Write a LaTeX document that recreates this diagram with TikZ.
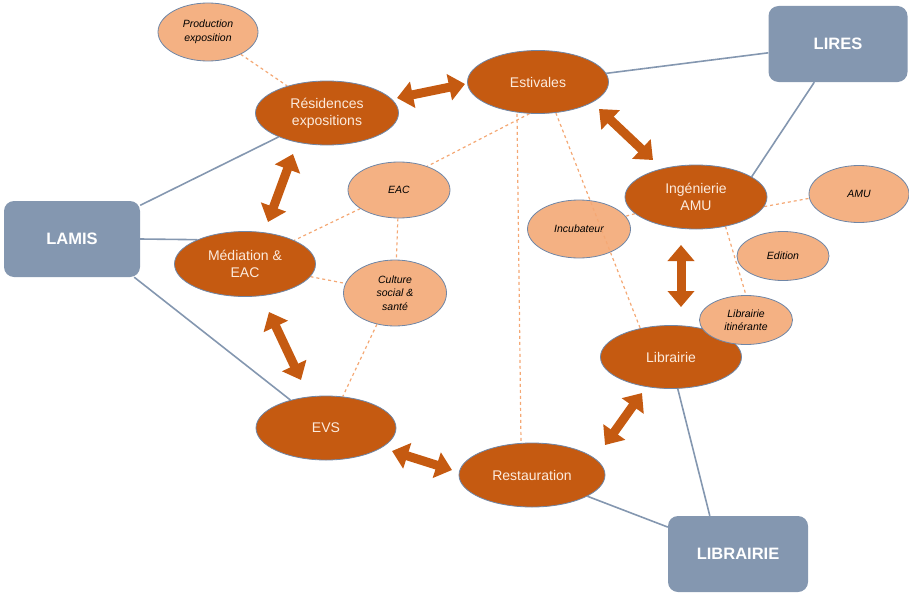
\documentclass[tikz,border=0pt]{standalone}
\usepackage{fontspec}
\setmainfont{Liberation Sans}
\usetikzlibrary{shapes.geometric,arrows.meta}
\pgfdeclarelayer{bg}
\pgfsetlayers{bg,main}
\definecolor{dor}{HTML}{C55A11}
\definecolor{lor}{HTML}{F4B183}
\definecolor{bgr}{HTML}{8497B0}
\definecolor{edgec}{HTML}{6F86A6}
\definecolor{dashc}{HTML}{F4A874}
\definecolor{ltxt}{HTML}{FCEBDD}
\tikzset{
  mainell/.style={ellipse, fill=dor, draw=edgec, line width=0.8pt, inner sep=0pt, text=ltxt, font=\fontsize{14}{17}\selectfont, align=center},
  smallell/.style={ellipse, fill=lor, draw=edgec, line width=0.8pt, inner sep=0pt, font=\fontsize{10.5}{13.5}\selectfont\itshape, align=center},
  bluebox/.style={rectangle, rounded corners=10pt, fill=bgr, text=white, inner sep=0pt, font=\fontsize{16.5}{18}\selectfont\bfseries},
  bluelink/.style={draw=bgr, line width=1.6pt},
  dashlink/.style={draw=dashc, line width=1.2pt, dash pattern=on 3pt off 3pt},
  dblarrow/.style={draw=dor, line width=9pt, {Triangle[width=26pt,length=16pt]}-{Triangle[width=26pt,length=16pt]}}
}
\begin{document}
\begin{tikzpicture}[x=1pt,y=-1pt]
\useasboundingbox (0,0) rectangle (909,594);
% blue boxes
\node[bluebox, minimum width=136pt, minimum height=76pt] (lamis) at (72,239) {LAMIS};
\node[bluebox, minimum width=139pt, minimum height=76pt] (lires) at (838,44) {LIRES};
\node[bluebox, minimum width=140pt, minimum height=76pt] (libr) at (738,554) {LIBRAIRIE};
% main ellipses
\node[mainell, minimum width=143pt, minimum height=64pt] (res) at (327,113) {Résidences\\expositions};
\node[mainell, minimum width=141pt, minimum height=63pt] (est) at (538,82) {Estivales};
\node[mainell, minimum width=141pt, minimum height=65pt] (med) at (245,264) {Médiation \&\\EAC};
\node[mainell, minimum width=142pt, minimum height=64pt] (ing) at (696,197) {Ingénierie\\AMU};
\node[mainell, minimum width=141pt, minimum height=63pt] (lib) at (671,357) {Librairie};
\node[mainell, minimum width=140pt, minimum height=64pt] (evs) at (326,428) {EVS};
\node[mainell, minimum width=146pt, minimum height=64pt] (rest) at (532,475) {Restauration};
% small ellipses
\node[smallell, minimum width=100pt, minimum height=58pt] (prod) at (208,32) {Production\\exposition};
\node[smallell, minimum width=102pt, minimum height=56pt] (eac) at (399,190) {EAC};
\node[smallell, minimum width=103pt, minimum height=66pt] (cult) at (395,293) {Culture\\social \&\\santé};
\node[smallell, minimum width=100pt, minimum height=57pt] (amu) at (859,194) {AMU};
\node[smallell, minimum width=103pt, minimum height=58pt] (incu) at (579,229) {Incubateur};
\node[smallell, minimum width=92pt, minimum height=49pt] (edit) at (783,256) {Edition};
\node[smallell, minimum width=93pt, minimum height=49pt, font=\fontsize{10.5}{12.5}\selectfont\itshape] (libit) at (746,320) {Librairie\\itinérante};
% connectors behind
\begin{pgfonlayer}{bg}
\draw[bluelink] (lamis) -- (res);
\draw[bluelink] (lamis.east) -- (med.153);
\draw[bluelink] ([xshift=-6pt]lamis.south east) -- (evs);
\draw[bluelink] (est) -- (lires);
\draw[bluelink] ([xshift=46pt]lires.south west) -- (ing.20);
\draw[bluelink] (rest) -- (libr);
\draw[bluelink] (lib.-78) -- ([xshift=42pt]libr.north west);
\draw[dashlink] (prod) -- (res);
\draw[dashlink] (est.-105) -- (eac.40);
\draw[dashlink] ([xshift=-21pt]est.south) -- ([xshift=-11pt]rest.north);
\draw[dashlink] (eac) -- (med);
\draw[dashlink] (eac) -- (cult);
\draw[dashlink] (med) -- (cult);
\draw[dashlink] (cult.-120) -- (evs.62);
\draw[dashlink] (ing) -- (incu);
\draw[dashlink] (ing.-8) -- (amu.185);
\draw[dashlink] (ing.-45) -- (libit.north);
\end{pgfonlayer}
\draw[dashlink] (est.-60) -- (lib.137);
% thick double arrows
\coordinate (a1s) at (397,98); \coordinate (a1e) at (465,84);
\coordinate (a2s) at (293,154); \coordinate (a2e) at (268,222);
\coordinate (a3s) at (599,109); \coordinate (a3e) at (653,160);
\coordinate (a4s) at (681,245); \coordinate (a4e) at (681,307);
\coordinate (a5s) at (269,312); \coordinate (a5e) at (301,380);
\coordinate (a6s) at (392,451); \coordinate (a6e) at (452,470);
\coordinate (a7s) at (605,445); \coordinate (a7e) at (642,393);
\draw[dblarrow] (a1s) -- (a1e);
\draw[dblarrow] (a2s) -- (a2e);
\draw[dblarrow] (a3s) -- (a3e);
\draw[dblarrow] (a4s) -- (a4e);
\draw[dblarrow] (a5s) -- (a5e);
\draw[dblarrow] (a6s) -- (a6e);
\draw[dblarrow] (a7s) -- (a7e);
\end{tikzpicture}
\end{document}
